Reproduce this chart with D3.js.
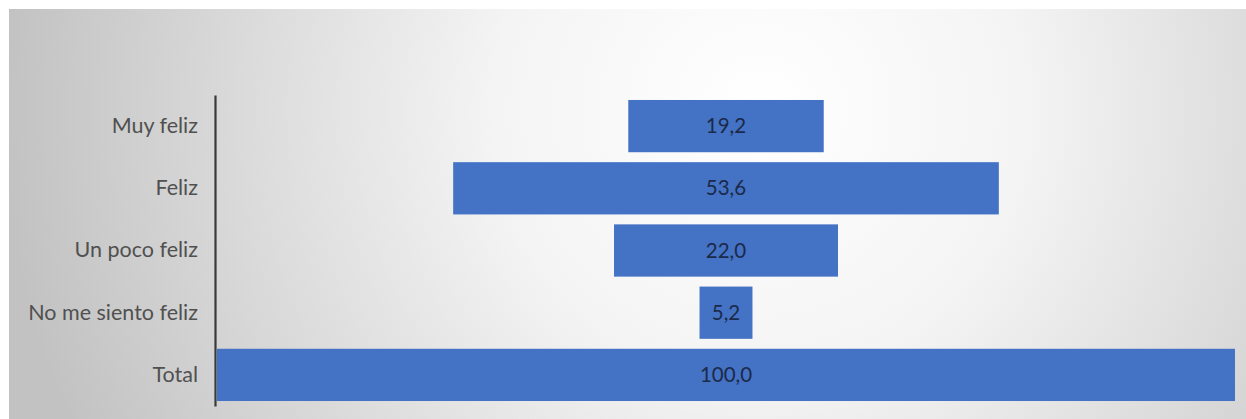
<!DOCTYPE html>
<html><head><meta charset="utf-8">
<script src="https://cdn.jsdelivr.net/npm/d3@7"></script>
<style>html,body{margin:0;padding:0;background:#fff;}svg{display:block;}</style>
</head><body>
<script>
const categories = ["Muy feliz", "Feliz", "Un poco feliz", "No me siento feliz", "Total"];
const values = [19.2, 53.6, 22.0, 5.2, 100.0];
const valueLabels = ["19,2", "53,6", "22,0", "5,2", "100,0"];

const W = 1246, H = 419;
const svg = d3.select("body").append("svg").attr("width", W).attr("height", H);
const defs = svg.append("defs");
const grad = defs.append("radialGradient").attr("id", "bg")
  .attr("gradientUnits", "userSpaceOnUse")
  .attr("cx", 760).attr("cy", 110).attr("r", 760);
grad.append("stop").attr("offset", "0").attr("stop-color", "#ffffff");
grad.append("stop").attr("offset", "0.35").attr("stop-color", "#f4f4f4");
grad.append("stop").attr("offset", "1").attr("stop-color", "#c2c2c2");

svg.append("rect").attr("x", 9).attr("y", 9).attr("width", W - 9).attr("height", H - 9)
  .attr("fill", "url(#bg)");

const x = d3.scaleLinear().domain([0, 100]).range([217, 1235]);
const y = d3.scaleBand().domain(categories).range([95, 406]).paddingInner(0.16).paddingOuter(0.08);

const g = svg.append("g");
g.selectAll("rect.bar").data(categories).join("rect").attr("class", "bar")
  .attr("x", (d, i) => x(50 - values[i] / 2))
  .attr("width", (d, i) => x(50 + values[i] / 2) - x(50 - values[i] / 2))
  .attr("y", d => y(d))
  .attr("height", y.bandwidth())
  .attr("fill", "#4472c4");

g.selectAll("text.val").data(categories).join("text").attr("class", "val")
  .attr("x", x(50))
  .attr("y", d => y(d) + y.bandwidth() / 2)
  .attr("dy", "0.35em")
  .attr("text-anchor", "middle")
  .attr("font-family", "Lato, 'Open Sans', sans-serif")
  .attr("font-size", 20.5)
  .attr("fill", "#1b2a4a")
  .text((d, i) => valueLabels[i]);

const axis = d3.axisLeft(y).tickSize(0).tickPadding(17);
const ag = svg.append("g").attr("transform", "translate(215,0)").call(axis);
ag.select(".domain").attr("stroke", "#3a3a3a").attr("stroke-width", 2.2);
ag.selectAll(".tick text").attr("font-family", "Lato, 'Open Sans', sans-serif")
  .attr("font-size", 21.5).attr("fill", "#505050");
</script>
</body></html>
